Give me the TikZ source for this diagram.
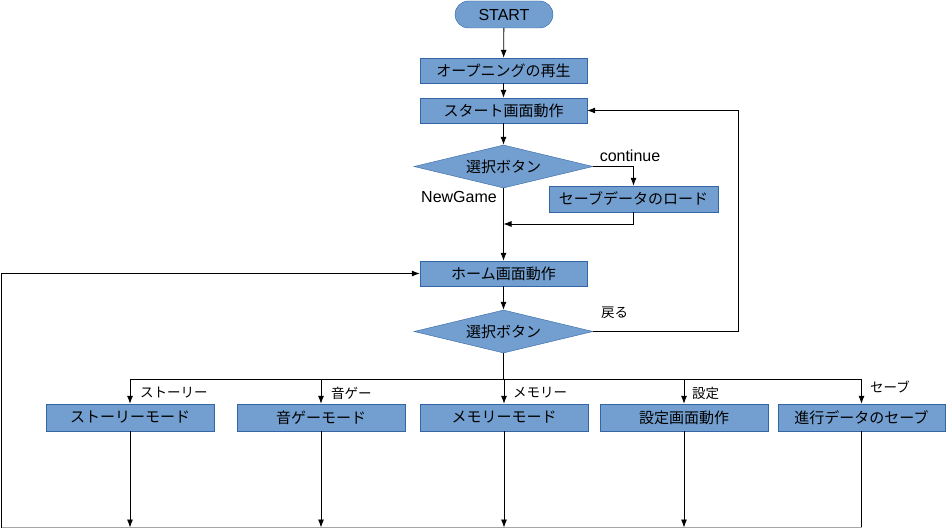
\documentclass[tikz,border=0pt]{standalone}
\usepackage{fontspec}
\setmainfont{Liberation Sans}
\newfontfamily\jpfont{Noto Sans CJK JP}
\usepackage{xcolor}
\definecolor{BoxBlue}{HTML}{729FCF}
\definecolor{EdgeBlue}{HTML}{3465A4}
\usetikzlibrary{arrows.meta,positioning,shapes.geometric,calc}

\begin{document}
\begin{tikzpicture}[x=1pt,y=-1pt,>={Latex[length=8pt,width=6pt]},every node/.style={font=\jpfont\fontsize{15}{17}\selectfont, align=center, inner sep=0pt}, procbox/.style={draw=EdgeBlue, fill=BoxBlue, minimum width=167pt, minimum height=25pt}, modebox/.style={procbox, minimum width=168pt, minimum height=27pt}, decision/.style={diamond, aspect=4, draw=EdgeBlue, fill=BoxBlue, minimum width=179pt, minimum height=43pt}, terminal/.style={draw=EdgeBlue, fill=BoxBlue, rounded corners=13.5pt, minimum width=98pt, minimum height=27pt, font=\normalfont\fontsize{16}{18}\selectfont}, flowline/.style={->, line width=0.8pt}, branchlabel/.style={font=\jpfont\fontsize{13.5}{15}\selectfont, anchor=west}, latinlabel/.style={font=\normalfont\fontsize{16}{18}\selectfont}]
        \useasboundingbox (0,0) rectangle (946,529);
        \node[terminal] (start) at (504,14.5) {START};
        \node[procbox] (opening) at (503.5,70.5) {オープニングの再生};
        \node[procbox] (title) at (503.5,110.5) {スタート画面動作};
        \node[decision] (select1) at (503.5,166.5) {選択ボタン};
        \node[procbox, minimum width=169pt, minimum height=26pt] (load) at (633.5,199) {セーブデータのロード};
        \node[procbox] (home) at (503.5,273.5) {ホーム画面動作};
        \node[decision] (select2) at (503.5,331.5) {選択ボタン};
        \node[modebox] (story) at (130,417.5) {ストーリーモード};
        \node[modebox] (rhythm) at (321,417.5) {音ゲーモード};
        \node[modebox] (memory) at (504,417.5) {メモリーモード};
        \node[modebox] (config) at (684,417.5) {設定画面動作};
        \node[modebox, minimum width=167pt] (save) at (861.5,417.5) {進行データのセーブ};
        % labels
        \node[latinlabel] (contlabel) at (630,156) {continue};
        \node[latinlabel] (newlabel) at (459,197) {NewGame};
        \node[branchlabel] (backlabel) at (601,313) {戻る};
        \node[branchlabel] (storylabel) at (140,393) {ストーリー};
        \node[branchlabel] (rhythmlabel) at (331,393) {音ゲー};
        \node[branchlabel] (memorylabel) at (513,393) {メモリー};
        \node[branchlabel] (configlabel) at (692,393) {設定};
        \node[branchlabel] (savelabel) at (870,387) {セーブ};
        % helper points
        \coordinate (merge) at (503.5,224);
        \coordinate (backturn) at (738,331.5);
        \coordinate (bus) at (503.5,379);
        \coordinate (floor) at (1,527.5);
        % main flow
        \draw[flowline] (start) -- (opening);
        \draw[flowline] (opening) -- (title);
        \draw[flowline] (title) -- (select1);
        \draw[flowline] (select1.east) -| (load.north);
        \draw[flowline] (load.south) |- (merge);
        \draw[flowline] (select1.south) -- (home.north);
        \draw[flowline] (home) -- (select2);
        \draw[flowline] (select2.east) -- (backturn) |- (title.east);
        % branches
        \draw[line width=0.8pt] (select2.south) -- (bus);
        \draw[line width=0.8pt] (story.north |- bus) -- (save.north |- bus);
        \draw[flowline] (story.north |- bus) -- (story.north);
        \draw[flowline] (rhythm.north |- bus) -- (rhythm.north);
        \draw[flowline] (memory.north |- bus) -- (memory.north);
        \draw[flowline] (config.north |- bus) -- (config.north);
        \draw[flowline] (save.north |- bus) -- (save.north);
        % return to home
        \draw[flowline] (story.south) -- (story.south |- floor);
        \draw[flowline] (rhythm.south) -- (rhythm.south |- floor);
        \draw[flowline] (memory.south) -- (memory.south |- floor);
        \draw[flowline] (config.south) -- (config.south |- floor);
        \draw[line width=0.8pt] (save.south) -- (save.south |- floor);
        \draw[line width=0.8pt, black!35] (save.south |- floor) -- (floor);
        \draw[flowline] (floor) |- (home.west);
    \end{tikzpicture}
\end{document}
